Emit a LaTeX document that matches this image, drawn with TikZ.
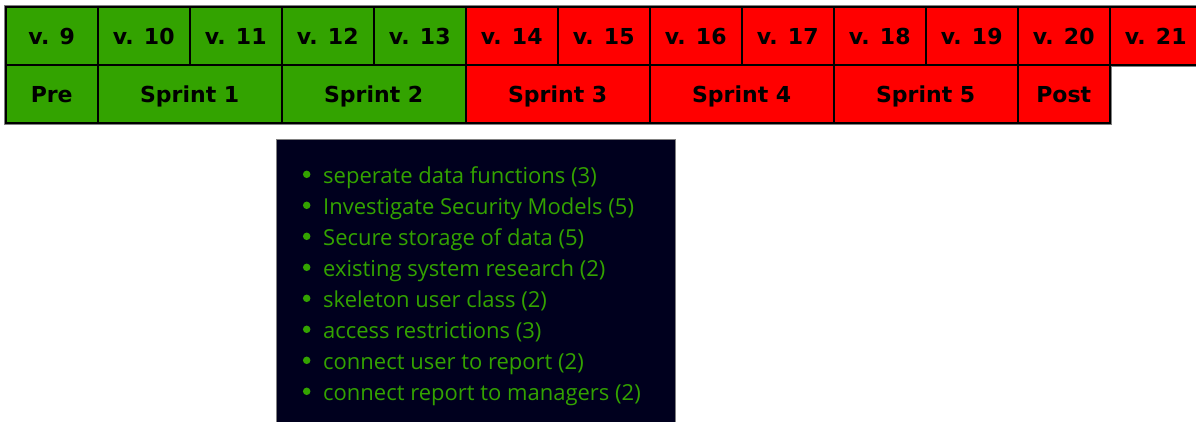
\documentclass[tikz,border=0pt]{standalone}
\usepackage{fontspec}
\setmainfont{DejaVu Sans}
\newfontfamily\listfont{Open Sans}
\definecolor{sprintgreen}{RGB}{51,163,0}
\definecolor{sprintred}{RGB}{255,0,0}
\definecolor{boardnavy}{RGB}{0,0,30}
\definecolor{edgegrey}{RGB}{128,128,128}
\begin{document}
\begin{tikzpicture}[x=1bp,y=-1bp,
  cell/.style={draw=black, line width=2bp, inner sep=0pt, minimum height=58bp,
    text height=16bp, text depth=0pt,
    font=\bfseries\fontsize{22bp}{26bp}\selectfont},
  week/.style={cell, minimum width=92bp},
  single/.style={cell, minimum width=92bp},
  sprint/.style={cell, minimum width=184bp},
  board/.style={draw=edgegrey, line width=1bp, fill=boardnavy, inner sep=0pt,
    anchor=north west, minimum width=399bp, minimum height=300bp},
  task/.style={anchor=base west, inner sep=0pt, text=sprintgreen,
    font=\listfont\fontsize{22bp}{26bp}\selectfont},
  dot/.style={circle, fill=sprintgreen, inner sep=0pt, minimum size=7.5bp}
]
\clip (0,0) rectangle (1196,421);
\fill[white] (0,0) rectangle (1196,421);

% thin grey frame round the schedule table
\draw[edgegrey, line width=1bp]
  (1200,5.5) -- (4.2,5.5) -- (4.2,124.5) -- (1111.2,124.5) -- (1111.2,66.5) -- (1200,66.5);

% week row
\foreach \n in {9,...,21}{
  \pgfmathsetmacro\cx{51.7+92*(\n-9)}
  \ifnum\n<14 \def\fc{sprintgreen}\else\def\fc{sprintred}\fi
  \node[week, fill=\fc] (w\n) at (\cx,36) {v. \n};
}

% sprint row
\node[single, fill=sprintgreen] (pre) at (51.7,94) {Pre};
\node[sprint, fill=sprintgreen] (s1) at (189.7,94) {Sprint 1};
\node[sprint, fill=sprintgreen] (s2) at (373.7,94) {Sprint 2};
\node[sprint, fill=sprintred] (s3) at (557.7,94) {Sprint 3};
\node[sprint, fill=sprintred] (s4) at (741.7,94) {Sprint 4};
\node[sprint, fill=sprintred] (s5) at (925.7,94) {Sprint 5};
\node[single, fill=sprintred] (post) at (1063.7,94) {Post};

% task board
\node[board] (board) at (275.5,139) {};
\foreach \t [count=\k from 0] in {
  seperate data functions (3),
  Investigate Security Models (5),
  Secure storage of data (5),
  existing system research (2),
  skeleton user class (2),
  access restrictions (3),
  connect user to report (2),
  connect report to managers (2)}{
  \pgfmathsetmacro\by{183+31*\k}
  \node[dot] (d\k) at (306.7,\by-8.7) {};
  \node[task] (t\k) at (323,\by) {\t};
}
\end{tikzpicture}
\end{document}
